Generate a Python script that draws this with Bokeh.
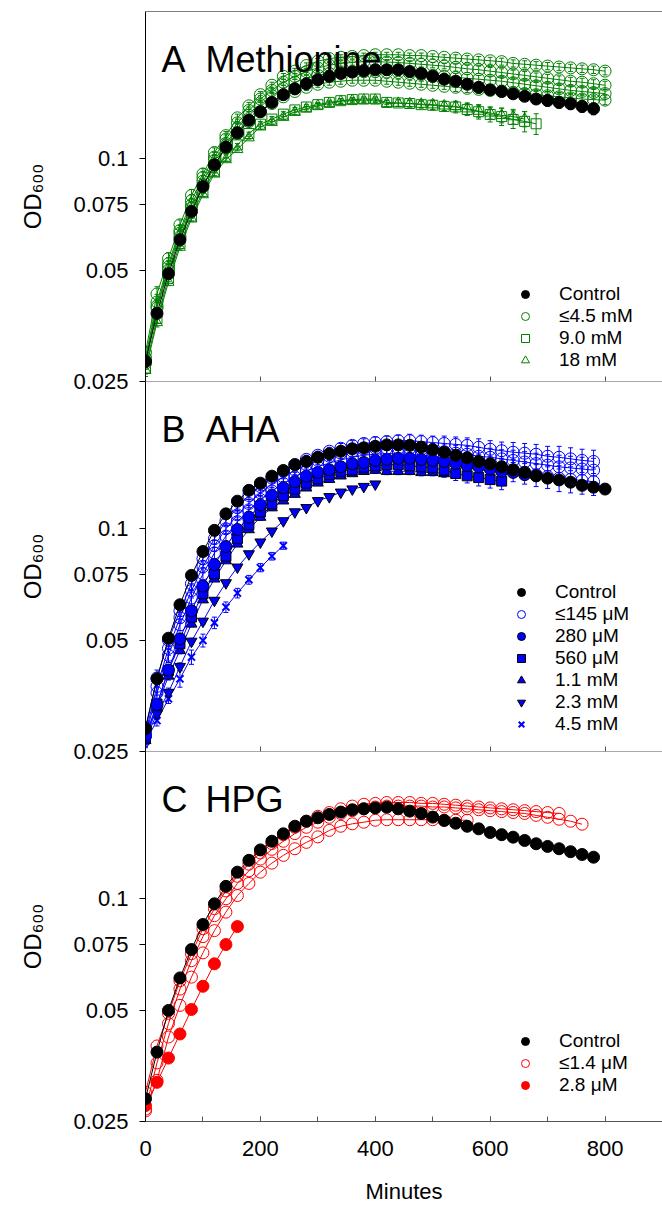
from bokeh.plotting import figure
from bokeh.layouts import column
from bokeh.models import (ColumnDataSource, Label, Legend, LegendItem, FixedTicker,
                          SingleIntervalTicker, CustomJSTickFormatter, Range1d, Whisker,
                          TeeHead, Span)
from bokeh.embed import file_html
from bokeh.resources import INLINE

# ---------------- data ----------------
minutes = list(range(0, 820, 20))

# Panel A: Methionine
a_control = [0.0283, 0.0382, 0.0489, 0.0604, 0.0720, 0.0841, 0.0963, 0.1075, 0.1175, 0.1270,
             0.1340, 0.1420, 0.1490, 0.1545, 0.1594, 0.1635, 0.1670, 0.1700, 0.1715, 0.1730,
             0.1740, 0.1740, 0.1740, 0.1720, 0.1700, 0.1670, 0.1640, 0.1620, 0.1590, 0.1560,
             0.1535, 0.1520, 0.1498, 0.1475, 0.1450, 0.1437, 0.1420, 0.1408, 0.1385, 0.1365]
a_control_err = [0.001, 0.001, 0.001, 0.001, 0.001, 0.001, 0.001, 0.001, 0.001, 0.001,
                 0.001, 0.001, 0.001, 0.001, 0.001, 0.001, 0.002, 0.002, 0.002, 0.002,
                 0.002, 0.002, 0.002, 0.002, 0.002, 0.002, 0.003, 0.003, 0.003, 0.003,
                 0.004, 0.004, 0.004, 0.004, 0.004, 0.005, 0.005, 0.005, 0.005, 0.005]
a_low_1 = [0.0300, 0.0431, 0.0537, 0.0663, 0.0796, 0.0910, 0.1040, 0.1155, 0.1290, 0.1390,
           0.1490, 0.1580, 0.1670, 0.1725, 0.1786, 0.1835, 0.1865, 0.1880, 0.1890, 0.1900,
           0.1910, 0.1910, 0.1910, 0.1900, 0.1900, 0.1890, 0.1880, 0.1870, 0.1860, 0.1850,
           0.1840, 0.1830, 0.1810, 0.1800, 0.1790, 0.1780, 0.1770, 0.1760, 0.1750, 0.1740, 0.1725]
a_low_2 = [0.0290, 0.0410, 0.0520, 0.0640, 0.0770, 0.0890, 0.1010, 0.1130, 0.1250, 0.1350,
           0.1450, 0.1530, 0.1610, 0.1670, 0.1720, 0.1760, 0.1790, 0.1810, 0.1820, 0.1830,
           0.1830, 0.1825, 0.1820, 0.1810, 0.1800, 0.1790, 0.1780, 0.1765, 0.1750, 0.1740,
           0.1725, 0.1710, 0.1695, 0.1680, 0.1665, 0.1650, 0.1635, 0.1620, 0.1610, 0.1595, 0.1580]
a_low_3 = [0.0285, 0.0400, 0.0510, 0.0630, 0.0750, 0.0870, 0.0990, 0.1100, 0.1210, 0.1310,
           0.1400, 0.1480, 0.1550, 0.1610, 0.1650, 0.1680, 0.1700, 0.1710, 0.1720, 0.1720,
           0.1720, 0.1715, 0.1710, 0.1700, 0.1690, 0.1680, 0.1670, 0.1660, 0.1650, 0.1640,
           0.1630, 0.1620, 0.1605, 0.1590, 0.1575, 0.1560, 0.1545, 0.1530, 0.1520, 0.1510, 0.1500]
a_low_4 = [0.0280, 0.0395, 0.0500, 0.0615, 0.0735, 0.0850, 0.0960, 0.1070, 0.1170, 0.1260,
           0.1340, 0.1410, 0.1470, 0.1520, 0.1560, 0.1590, 0.1610, 0.1620, 0.1630, 0.1630,
           0.1630, 0.1620, 0.1610, 0.1600, 0.1590, 0.1580, 0.1570, 0.1560, 0.1550, 0.1540,
           0.1530, 0.1520, 0.1510, 0.1500, 0.1490, 0.1480, 0.1470, 0.1460, 0.1450, 0.1445, 0.1440]
a_low_err = [0.001, 0.002, 0.002, 0.002, 0.003, 0.003, 0.003, 0.003, 0.003, 0.003,
             0.003, 0.003, 0.003, 0.003, 0.003, 0.003, 0.003, 0.003, 0.003, 0.003,
             0.003, 0.003, 0.003, 0.003, 0.003, 0.003, 0.003, 0.004, 0.004, 0.004,
             0.004, 0.004, 0.004, 0.004, 0.004, 0.004, 0.004, 0.004, 0.004, 0.004, 0.004]
a_9mM = [0.0272, 0.0370, 0.0475, 0.0590, 0.0700, 0.0815, 0.0925, 0.1015, 0.1090, 0.1170,
         0.1240, 0.1280, 0.1320, 0.1355, 0.1380, 0.1400, 0.1420, 0.1435, 0.1445, 0.1450,
         0.1450, 0.1420, 0.1415, 0.1410, 0.1400, 0.1395, 0.1385, 0.1380, 0.1358, 0.1340,
         0.1317, 0.1300, 0.1277, 0.1262, 0.1243]
a_9mM_err = [0.001, 0.001, 0.001, 0.001, 0.001, 0.001, 0.001, 0.001, 0.001, 0.001,
             0.002, 0.002, 0.002, 0.002, 0.002, 0.002, 0.002, 0.002, 0.002, 0.002,
             0.002, 0.002, 0.003, 0.003, 0.003, 0.004, 0.004, 0.005, 0.005, 0.006,
             0.006, 0.007, 0.007, 0.008, 0.008]
a_18mM = [0.0268, 0.0361, 0.0464, 0.0577, 0.0688, 0.0800, 0.0910, 0.0995, 0.1060, 0.1140,
          0.1220, 0.1255, 0.1295, 0.1336, 0.1365, 0.1390, 0.1410, 0.1430, 0.1437, 0.1440,
          0.1440, 0.1410, 0.1413, 0.1410, 0.1405, 0.1400, 0.1390, 0.1385, 0.1365, 0.1345,
          0.1330, 0.1310, 0.1300, 0.1280]
a_18mM_err = [0.001, 0.001, 0.001, 0.001, 0.001, 0.001, 0.001, 0.001, 0.001, 0.001,
              0.002, 0.002, 0.002, 0.002, 0.002, 0.002, 0.002, 0.002, 0.002, 0.002,
              0.002, 0.003, 0.003, 0.003, 0.003, 0.004, 0.004, 0.004, 0.005, 0.005,
              0.005, 0.006, 0.006, 0.006]

# Panel B: AHA
b_control = [0.0288, 0.0393, 0.0506, 0.0623, 0.0748, 0.0868, 0.0990, 0.1097, 0.1187, 0.1270,
             0.1328, 0.1387, 0.1437, 0.1490, 0.1520, 0.1560, 0.1594, 0.1620, 0.1645, 0.1655,
             0.1670, 0.1685, 0.1685, 0.1680, 0.1662, 0.1635, 0.1610, 0.1580, 0.1555, 0.1520,
             0.1498, 0.1470, 0.1443, 0.1420, 0.1390, 0.1370, 0.1355, 0.1336, 0.1310, 0.1295, 0.1280]
b_control_err = [0.001, 0.001, 0.001, 0.001, 0.001, 0.001, 0.001, 0.001, 0.001, 0.001,
                 0.001, 0.001, 0.001, 0.001, 0.001, 0.001, 0.001, 0.001, 0.001, 0.001,
                 0.002, 0.002, 0.002, 0.002, 0.002, 0.002, 0.002, 0.002, 0.002, 0.002,
                 0.003, 0.003, 0.003, 0.003, 0.003, 0.003, 0.003, 0.003, 0.003, 0.003, 0.003]
b_low_1 = [0.0290, 0.0395, 0.0500, 0.0600, 0.0710, 0.0830, 0.0940, 0.1050, 0.1140, 0.1230,
           0.1300, 0.1370, 0.1430, 0.1490, 0.1540, 0.1580, 0.1620, 0.1650, 0.1680, 0.1700,
           0.1710, 0.1720, 0.1730, 0.1730, 0.1720, 0.1710, 0.1700, 0.1690, 0.1680, 0.1660,
           0.1640, 0.1625, 0.1610, 0.1600, 0.1590, 0.1570, 0.1560, 0.1545, 0.1530, 0.1520]
b_low_2 = [0.0280, 0.0375, 0.0475, 0.0575, 0.0680, 0.0790, 0.0900, 0.1000, 0.1090, 0.1170,
           0.1250, 0.1320, 0.1380, 0.1440, 0.1490, 0.1530, 0.1570, 0.1600, 0.1620, 0.1640,
           0.1650, 0.1650, 0.1650, 0.1650, 0.1640, 0.1630, 0.1615, 0.1600, 0.1590, 0.1570,
           0.1560, 0.1545, 0.1530, 0.1515, 0.1500, 0.1485, 0.1470, 0.1460, 0.1450, 0.1440]
b_low_3 = [0.0275, 0.0360, 0.0455, 0.0550, 0.0650, 0.0755, 0.0860, 0.0955, 0.1045, 0.1125,
           0.1200, 0.1265, 0.1325, 0.1380, 0.1430, 0.1470, 0.1505, 0.1535, 0.1560, 0.1580,
           0.1590, 0.1595, 0.1595, 0.1590, 0.1580, 0.1570, 0.1555, 0.1540, 0.1520, 0.1500,
           0.1480, 0.1460, 0.1440, 0.1420, 0.1400, 0.1385, 0.1370, 0.1360, 0.1350, 0.1340]
b_low_err = [0.001, 0.002, 0.002, 0.002, 0.003, 0.003, 0.003, 0.003, 0.003, 0.003,
             0.003, 0.003, 0.004, 0.004, 0.004, 0.004, 0.004, 0.005, 0.005, 0.005,
             0.006, 0.006, 0.006, 0.007, 0.007, 0.007, 0.008, 0.008, 0.008, 0.009,
             0.009, 0.009, 0.010, 0.010, 0.010, 0.010, 0.011, 0.011, 0.011, 0.011]
b_280uM = [0.0276, 0.0335, 0.0415, 0.0504, 0.0600, 0.0700, 0.0800, 0.0895, 0.0995, 0.1075,
           0.1160, 0.1230, 0.1290, 0.1340, 0.1387, 0.1420, 0.1443, 0.1470, 0.1498, 0.1510,
           0.1530, 0.1540, 0.1550, 0.1550, 0.1540, 0.1530, 0.1520, 0.1500, 0.1480, 0.1470,
           0.1450, 0.1430, 0.1420, 0.1400, 0.1390]
b_280uM_err = [0.001, 0.001, 0.001, 0.001, 0.001, 0.001, 0.001, 0.001, 0.001, 0.001,
               0.002, 0.002, 0.002, 0.002, 0.002, 0.002, 0.002, 0.002, 0.002, 0.002,
               0.003, 0.003, 0.003, 0.003, 0.003, 0.003, 0.003, 0.003, 0.003, 0.003,
               0.003, 0.003, 0.003, 0.003, 0.003]
b_560uM = [0.0272, 0.0336, 0.0414, 0.0489, 0.0577, 0.0667, 0.0755, 0.0843, 0.0940, 0.1025,
           0.1110, 0.1168, 0.1230, 0.1280, 0.1328, 0.1365, 0.1400, 0.1430, 0.1443, 0.1467,
           0.1480, 0.1490, 0.1490, 0.1480, 0.1470, 0.1460, 0.1440, 0.1410, 0.1390, 0.1375,
           0.1358, 0.1345]
b_560uM_err = [0.001, 0.001, 0.001, 0.001, 0.001, 0.001, 0.001, 0.001, 0.001, 0.001,
               0.002, 0.002, 0.002, 0.002, 0.002, 0.002, 0.002, 0.002, 0.002, 0.002,
               0.003, 0.003, 0.004, 0.004, 0.005, 0.005, 0.006, 0.006, 0.006, 0.007,
               0.007, 0.007]
b_1_1mM = [0.0268, 0.0330, 0.0400, 0.0469, 0.0553, 0.0643, 0.0732, 0.0820, 0.0910, 0.0995,
           0.1075, 0.1140, 0.1190, 0.1240, 0.1290, 0.1330, 0.1360, 0.1390, 0.1410, 0.1430,
           0.1440, 0.1430, 0.1430, 0.1430, 0.1420, 0.1420, 0.1410]
b_1_1mM_err = [0.001, 0.001, 0.001, 0.001, 0.001, 0.001, 0.001, 0.001, 0.001, 0.001,
               0.002, 0.002, 0.002, 0.002, 0.002, 0.002, 0.002, 0.002, 0.002, 0.002,
               0.003, 0.003, 0.003, 0.003, 0.003, 0.003, 0.003]
b_2_3mM = [0.0270, 0.0316, 0.0361, 0.0424, 0.0496, 0.0562, 0.0640, 0.0714, 0.0787, 0.0855,
           0.0920, 0.0985, 0.1050, 0.1110, 0.1140, 0.1190, 0.1220, 0.1255, 0.1280, 0.1300, 0.1320]
b_2_3mM_err = [0.001, 0.001, 0.001, 0.001, 0.001, 0.001, 0.001, 0.001, 0.001, 0.001,
               0.001, 0.001, 0.001, 0.001, 0.001, 0.001, 0.001, 0.001, 0.001, 0.001, 0.001]
b_4_5mM = [0.0266, 0.0303, 0.0347, 0.0393, 0.0450, 0.0499, 0.0557, 0.0614, 0.0670, 0.0728,
           0.0785, 0.0843, 0.0900]
b_4_5mM_err = [0.001, 0.001, 0.001, 0.002, 0.002, 0.002, 0.002, 0.002, 0.002, 0.002,
               0.002, 0.002, 0.002]

# Panel C: HPG
c_control = [0.0288, 0.0385, 0.0499, 0.0611, 0.0729, 0.0852, 0.0969, 0.1080, 0.1180, 0.1270,
             0.1355, 0.1430, 0.1498, 0.1570, 0.1620, 0.1655, 0.1690, 0.1715, 0.1740, 0.1750,
             0.1760, 0.1768, 0.1750, 0.1725, 0.1700, 0.1662, 0.1628, 0.1600, 0.1570, 0.1545,
             0.1510, 0.1490, 0.1467, 0.1437, 0.1408, 0.1385, 0.1365, 0.1340, 0.1317, 0.1295]
c_low_1 = [0.0300, 0.0400, 0.0490, 0.0600, 0.0710, 0.0830, 0.0940, 0.1050, 0.1150, 0.1240,
           0.1330, 0.1410, 0.1490, 0.1560, 0.1620, 0.1670, 0.1710, 0.1750, 0.1780, 0.1800,
           0.1810, 0.1820, 0.1820, 0.1820, 0.1810, 0.1810, 0.1800, 0.1790, 0.1780, 0.1770,
           0.1760, 0.1750, 0.1740, 0.1730, 0.1720, 0.1710, 0.1700]
c_low_2 = [0.0270, 0.0360, 0.0460, 0.0570, 0.0680, 0.0790, 0.0900, 0.1000, 0.1100, 0.1190,
           0.1280, 0.1360, 0.1430, 0.1500, 0.1560, 0.1610, 0.1660, 0.1700, 0.1730, 0.1750,
           0.1770, 0.1780, 0.1780, 0.1780, 0.1780, 0.1770, 0.1770, 0.1760, 0.1750, 0.1740,
           0.1730, 0.1720, 0.1710, 0.1700, 0.1680, 0.1660, 0.1640, 0.1620, 0.1590]
c_low_3 = [0.0267, 0.0323, 0.0423, 0.0515, 0.0614, 0.0714, 0.0820, 0.0920, 0.1020, 0.1100,
           0.1180, 0.1248, 0.1310, 0.1365, 0.1420, 0.1470, 0.1530, 0.1570, 0.1594, 0.1610,
           0.1630, 0.1635, 0.1635, 0.1635, 0.1635, 0.1635, 0.1630, 0.1630, 0.1630]
c_2_8uM = [0.0276, 0.0319, 0.0371, 0.0431, 0.0502, 0.0580, 0.0667, 0.0752, 0.0841]

y_ticks = [0.025, 0.05, 0.075, 0.1]
y_label = "OD\u2086\u2080\u2080"

GREEN = "#008000"
BLUE = "#0000ff"
RED = "#ff0000"
FONT = "Liberation Sans"
AXIS_GREY = "#555555"


def make_fig(height, top, bottom, last=False):
    p = figure(width=662, height=height, x_range=Range1d(0, 900),
               y_range=Range1d(0.025, 0.25), y_axis_type="log",
               output_backend="svg", toolbar_location=None,
               min_border_left=145, min_border_right=0,
               min_border_top=top, min_border_bottom=bottom,
               outline_line_color=None,
               border_fill_color=None, background_fill_color=None)
    p.grid.visible = False
    ya = p.yaxis[0]
    ya.ticker = FixedTicker(ticks=y_ticks, minor_ticks=[])
    ya.formatter = CustomJSTickFormatter(code="return tick.toString()")
    ya.major_tick_out = 6
    ya.major_tick_in = 0
    ya.minor_tick_out = 0
    ya.minor_tick_in = 0
    ya.axis_line_color = "black"
    ya.major_tick_line_color = "black"
    ya.major_label_text_font = FONT
    ya.major_label_text_font_size = "22px"
    ya.major_label_text_color = "black"
    ya.major_label_standoff = 11
    ya.axis_label = y_label
    ya.axis_label_text_font = FONT
    ya.axis_label_text_font_size = "24px"
    ya.axis_label_text_font_style = "normal"
    ya.axis_label_text_color = "black"
    ya.axis_label_standoff = 24
    xa = p.xaxis[0]
    xa.axis_line_color = AXIS_GREY
    xa.major_tick_line_color = AXIS_GREY
    xa.minor_tick_line_color = AXIS_GREY
    xa.major_tick_in = 5
    xa.major_tick_out = 0
    if last:
        xa.ticker = SingleIntervalTicker(interval=200, num_minor_ticks=2)
        xa.minor_tick_in = 5
        xa.minor_tick_out = 0
        xa.major_label_text_font = FONT
        xa.major_label_text_font_size = "22px"
        xa.major_label_text_color = "black"
        xa.major_label_standoff = 19
        xa.axis_label = "Minutes"
        xa.axis_label_text_font = FONT
        xa.axis_label_text_font_size = "22px"
        xa.axis_label_text_font_style = "normal"
        xa.axis_label_text_color = "black"
        xa.axis_label_standoff = 20
    else:
        xa.fixed_location = 0.025
        xa.ticker = FixedTicker(ticks=[200, 400, 600, 800], minor_ticks=[])
        xa.minor_tick_in = 0
        xa.minor_tick_out = 0
        xa.formatter = CustomJSTickFormatter(code="return ''")
    return p


def add_series(p, y, marker, color, fill, err=None, line_color=None, size=12, lw=1):
    n = len(y)
    data = dict(x=minutes[:n], y=y)
    if err is not None:
        data["upper"] = [v + e for v, e in zip(y, err)]
        data["lower"] = [v - e for v, e in zip(y, err)]
    src = ColumnDataSource(data)
    p.line("x", "y", source=src, line_color=color, line_width=1)
    if err is not None:
        p.add_layout(Whisker(source=src, base="x", upper="upper", lower="lower",
                             line_color=color, line_width=1,
                             upper_head=TeeHead(size=5, line_color=color, line_width=1),
                             lower_head=TeeHead(size=5, line_color=color, line_width=1)))
    r = p.scatter("x", "y", source=src, marker=marker, size=size, fill_color=fill,
                  line_color=line_color or color, line_width=lw)
    return r


def add_title(p, letter, word):
    for x, t in ((16, letter), (60, word)):
        p.add_layout(Label(x=x, y=322, x_units="screen", y_units="screen", text=t,
                           text_font=FONT, text_font_size="36px", text_color="black",
                           text_baseline="alphabetic", text_align="left"))


def add_legend(p, items, x, y):
    lg = Legend(items=[LegendItem(label=l, renderers=[r]) for l, r in items],
                location=(x, y), border_line_color=None, background_fill_alpha=0,
                padding=0, spacing=0, margin=0, glyph_width=20, glyph_height=20,
                label_height=20, label_standoff=24, label_text_font=FONT,
                label_text_font_size="19px", label_text_color="black")
    p.add_layout(lg)


# ---------------- Panel A ----------------
pa = make_fig(395, 11, 14)
pa.add_layout(Span(location=0.25, dimension="width", line_color="black", line_width=1))
ra_tri = add_series(pa, a_18mM, "triangle", GREEN, None, a_18mM_err, size=11)
ra_sq = add_series(pa, a_9mM, "square", GREEN, None, a_9mM_err, size=10)
ra_c4 = add_series(pa, a_low_4, "circle", GREEN, None, a_low_err)
ra_c3 = add_series(pa, a_low_3, "circle", GREEN, None, a_low_err)
ra_c2 = add_series(pa, a_low_2, "circle", GREEN, None, a_low_err)
ra_c1 = add_series(pa, a_low_1, "circle", GREEN, None, a_low_err)
ra_ctl = add_series(pa, a_control, "circle", "black", "black", a_control_err)
add_title(pa, "A", "Methionine")
add_legend(pa, [("Control", ra_ctl), ("\u22644.5 mM", ra_c1), ("9.0 mM", ra_sq),
                ("18 mM", ra_tri)], 370, 10)

# ---------------- Panel B ----------------
pb = make_fig(384, 0, 14)
pb.margin = (-14, 0, 0, 0)
rb_x = add_series(pb, b_4_5mM, "x", BLUE, BLUE, b_4_5mM_err, size=10, lw=2)
rb_dt = add_series(pb, b_2_3mM, "inverted_triangle", BLUE, BLUE, b_2_3mM_err, line_color="black", size=11)
rb_t = add_series(pb, b_1_1mM, "triangle", BLUE, BLUE, b_1_1mM_err, line_color="black", size=11)
rb_sq = add_series(pb, b_560uM, "square", BLUE, BLUE, b_560uM_err, line_color="black", size=10)
rb_fc = add_series(pb, b_280uM, "circle", BLUE, BLUE, b_280uM_err, line_color="black")
rb_c3 = add_series(pb, b_low_3, "circle", BLUE, None, b_low_err)
rb_c2 = add_series(pb, b_low_2, "circle", BLUE, None, b_low_err)
rb_c1 = add_series(pb, b_low_1, "circle", BLUE, None, b_low_err)
rb_ctl = add_series(pb, b_control, "circle", "black", "black", b_control_err)
add_title(pb, "B", "AHA")
add_legend(pb, [("Control", rb_ctl), ("\u2264145 \u03bcM", rb_c1), ("280 \u03bcM", rb_fc),
                ("560 \u03bcM", rb_sq), ("1.1 mM", rb_t), ("2.3 mM", rb_dt),
                ("4.5 mM", rb_x)], 366, 16)

# ---------------- Panel C ----------------
pc = make_fig(460, 0, 90, last=True)
pc.margin = (-14, 0, 0, 0)
rc_f = add_series(pc, c_2_8uM, "circle", RED, RED)
rc_3 = add_series(pc, c_low_3, "circle", RED, None)
rc_2 = add_series(pc, c_low_2, "circle", RED, None)
rc_1 = add_series(pc, c_low_1, "circle", RED, None)
rc_ctl = add_series(pc, c_control, "circle", "black", "black")
add_title(pc, "C", "HPG")
add_legend(pc, [("Control", rc_ctl), ("\u22641.4 \u03bcM", rc_1), ("2.8 \u03bcM", rc_f)], 370, 25)

layout = column(pa, pb, pc, spacing=0)
open("out.html", "w").write(file_html(layout, INLINE))
